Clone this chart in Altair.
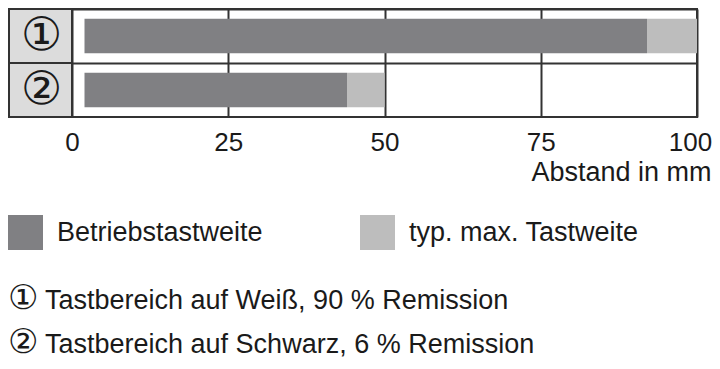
import altair as alt
import pandas as pd

rows = ["①", "②"]
op_start = [2, 2]
op_end = [92, 44]
max_end = [100, 50]
series = ["Betriebstastweite", "typ. max. Tastweite"]
colors = ["#808083", "#bdbdbd"]
x_ticks = [0, 25, 50, 75, 100]
x_title = "Abstand in mm"
note_marks = ["①", "②"]
notes = ["Tastbereich auf Weiß, 90 % Remission", "Tastbereich auf Schwarz, 6 % Remission"]

seg = []
for r, s, e, m in zip(rows, op_start, op_end, max_end):
    seg.append({"row": r, "start": s, "end": e, "type": series[0]})
    seg.append({"row": r, "start": e, "end": m, "type": series[1]})
df = pd.DataFrame(seg)
cells = pd.DataFrame({"row": rows})
dummy = pd.DataFrame({"k": [0]})

FONT = "Liberation Sans"
LINE = "#333333"
TXT = "#1a1a1a"

y_scale = alt.Scale(domain=rows, paddingInner=0, paddingOuter=0)
x_scale = alt.Scale(domain=[0, 100], nice=False)

cell_layer = alt.Chart(cells).mark_rect(fill="#dcdcdc", stroke=LINE, strokeWidth=2).encode(
    y=alt.Y("row:N", scale=y_scale, title=None,
            axis=alt.Axis(grid=True, bandPosition=0, gridColor=LINE, gridWidth=2,
                          domain=False, ticks=False, tickSize=0,
                          labelFont="DejaVu Sans", labelFontSize=46, labelColor=TXT,
                          labelAlign="center", labelBaseline="middle", labelPadding=31,
                          zindex=1)),
    x=alt.value(-63),
    x2=alt.value(0),
)

bars = alt.Chart(df).mark_bar(height=alt.RelativeBandSize(0.64)).encode(
    x=alt.X("start:Q", scale=x_scale, title=x_title,
            axis=alt.Axis(values=x_ticks, grid=True, gridColor=LINE, gridWidth=2,
                          domain=False, ticks=False, tickSize=0, labelFlush=False,
                          labelFont=FONT, labelFontSize=26, labelColor=TXT, labelPadding=12,
                          labelOffset={"condition": {"test": "datum.value === 100", "value": -7}, "value": 0},
                          titleFont=FONT, titleFontSize=27, titleFontWeight="normal", titleColor=TXT,
                          titleAnchor="end", titleAlign="right", titleBaseline="alphabetic",
                          titleX=639, titleY=63, zindex=0)),
    x2="end:Q",
    y=alt.Y("row:N", scale=y_scale, title=None),
    color=alt.Color("type:N", scale=alt.Scale(domain=series, range=colors),
                    legend=alt.Legend(orient="none", legendX=-64, legendY=206, direction="horizontal",
                                      title=None, symbolType="square", symbolSize=1225,
                                      symbolStrokeWidth=0, symbolOpacity=1, labelFont=FONT,
                                      labelFontSize=27, labelColor=TXT, labelOffset=14,
                                      columnPadding=97, padding=0, labelLimit=400)),
)

footnote_marks = alt.Chart(dummy).mark_text(
    align="left", baseline="alphabetic", font="DejaVu Sans", fontSize=34, color=TXT, lineHeight=44
).encode(
    x=alt.value(-64),
    y=alt.value(300),
    text=alt.value(note_marks),
)

footnotes = alt.Chart(dummy).mark_text(
    align="left", baseline="alphabetic", font=FONT, fontSize=27, color=TXT, lineHeight=44
).encode(
    x=alt.value(-27),
    y=alt.value(300),
    text=alt.value(notes),
)

chart = alt.layer(cell_layer, bars, footnote_marks, footnotes).properties(
    width=625, height=108,
    autosize=alt.AutoSizeParams(type="none"),
    padding={"left": 64, "top": 1, "right": 15, "bottom": 244},
    background="white",
).configure_view(stroke=LINE, strokeWidth=2)

chart.save("out.html", embed_options={"renderer": "svg", "actions": False})
